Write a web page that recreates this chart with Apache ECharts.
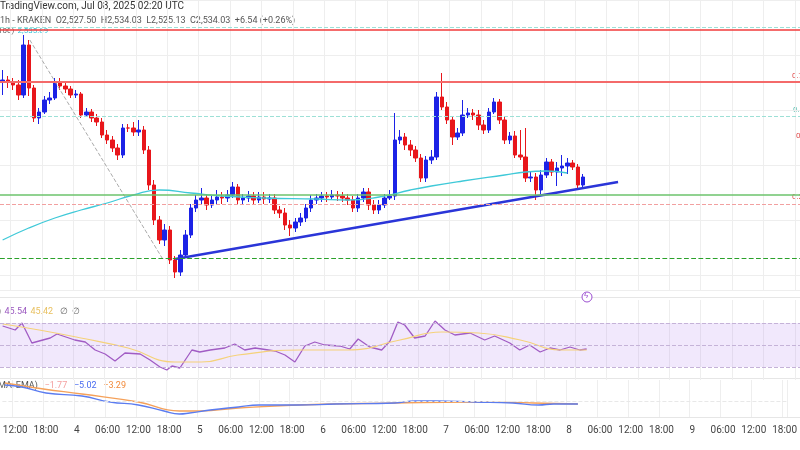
<!DOCTYPE html>
<html><head><meta charset="utf-8">
<script src="https://cdn.jsdelivr.net/npm/echarts@6/dist/echarts.min.js"></script>
<style>html,body{margin:0;background:#fff}#c{width:800px;height:450px}</style>
</head><body><div id="c"></div>
<script>
// levels are in chart units of the price pane (inverted scale: smaller = higher price)
const closes=[80,82,85,95,45,88,118,112,100,98,82,86,89,95,94,115,112,118,122,135,140,148,155,128,128,132,130,150,185,220,240,230,260,272,255,235,208,200,198,205,200,197,198,195,187,200,198,196,200,197,199,198,210,213,225,228,222,218,208,200,198,196,197,195,196,198,200,208,198,192,205,210,205,198,196,140,137,145,150,158,178,160,157,97,107,120,137,133,115,113,115,125,130,112,102,120,140,136,155,157,178,177,190,175,162,172,168,166,163,167,185,177];
const firstOpen=82;
const wickTop=[70,76,78,80,35,40,85,108,96,92,78,78,83,86,90,92,108,109,114,118,130,136,144,124,124,122,120,126,146,180,216,224,226,256,250,230,204,195,188,194,196,190,192,190,182,184,194,191,192,192,192,194,194,206,208,220,218,213,204,195,194,192,192,190,191,192,194,196,194,188,188,200,200,194,190,113,130,133,140,146,154,156,150,92,73,102,116,128,100,108,109,110,120,108,98,99,116,132,131,130,128,172,173,170,158,159,162,155,158,160,164,174];
const wickBot=[95,88,90,100,98,96,122,124,114,104,100,90,93,98,98,118,117,122,126,138,144,152,160,158,132,136,136,154,190,225,244,246,264,278,276,258,238,212,204,210,208,204,204,202,198,204,204,202,205,203,204,203,214,218,230,236,232,226,222,212,204,202,202,200,201,202,205,212,212,202,210,214,214,208,200,200,144,150,156,162,182,182,164,160,110,124,145,140,136,118,120,130,134,133,114,124,144,144,158,160,182,182,200,194,178,176,186,176,174,170,188,188];
const emaPts=[[0,240],[5,228],[10,218],[15,210],[20,203],[25,195],[30,190],[36,193],[42,196],[50,198],[60,199],[66,200],[72,197],[78,190],[82,186],[88,181],[96,175],[100,172],[104,171],[108,173]];
const trendPts=[[33,259],[117.7,182]];
const dropPts=[[5.2,40],[30.5,258]];
const rsiPts=[[0,326],[2.4,330],[3.7,323],[5.6,343],[9.1,338],[10.4,334],[13.8,340],[15.8,342],[17.7,350],[19.6,354],[21.5,361],[23.4,353],[26.3,354],[28.2,360],[30.1,367],[31.4,370],[32.4,366],[33.9,368],[36.2,350],[37.7,352],[39.7,350],[42.5,348],[44.4,344],[46.3,350],[48.3,348],[52.1,351],[54,355],[55.9,362],[57.8,346],[59.7,342],[61.6,345],[64.5,346],[66.4,349],[68,339],[70.2,347],[72.5,350],[74.1,341],[75.6,322],[76.9,325],[78.8,338],[80.8,336],[82.7,321],[84.6,330],[86.5,335],[89.4,333],[92.2,340],[94.1,336],[97,343],[98.9,350],[100.8,345],[102.8,352],[104.7,348],[106.6,350],[108.5,347],[110.4,350],[111.7,349]];
const rsiMaPts=[[0,324],[7,330],[15,338],[24,348],[33,362],[38,362],[45,355],[57,350],[66,350],[76,340],[84,332],[91,333],[99,340],[107,350],[111.7,350]];
const macdPts=[[0,385],[3.3,387],[8,393],[15,396],[20.5,402],[26,405],[31,411],[34,414],[36,413],[40,410],[45.5,407],[49.5,405],[57,405],[64.5,404],[76,403],[80,401],[84,401],[91.5,402],[99,403],[104,405],[107,404],[111.7,404]];
const signalPts=[[0,383],[7.5,389],[15,394],[26,402],[34,411],[38,411],[45.5,408],[57,405],[76,403],[91.5,402],[103,403],[111.7,404]];
const hours=[];for(let i=0;i<153;i++){hours.push(10+i);}
const cats=hours.map(h=>{const d=3+Math.floor(h/24),hh=h%24;return hh===0?String(d):(hh<10?'0':'')+hh+':00';});

const candles=closes.map((c,i)=>[i===0?firstOpen:closes[i-1],c,wickTop[i],wickBot[i]]);
const tick=(i)=>hours[i]%6===0;
const catAxis=(g,show)=>({type:'category',data:cats,gridIndex:g,boundaryGap:true,axisLine:{show:false},axisTick:{show:false},
  axisLabel:{show:show,interval:(i)=>tick(i),color:'#444',fontSize:10,fontFamily:'Roboto',margin:8},
  splitLine:{show:true,interval:(i)=>tick(i),lineStyle:{color:'#eeeeee'}}});
const valX=(g)=>({type:'value',gridIndex:g,min:-0.5,max:152.5,show:false});
const valY=(g,mn,mx,split)=>({type:'value',gridIndex:g,min:mn,max:mx,inverse:true,interval:55,axisLabel:{show:false},axisLine:{show:false},axisTick:{show:false},splitLine:{show:split,lineStyle:{color:'#eeeeee'}}});
const hl=(y,color,type,w,x0)=>x0==null?{yAxis:y,lineStyle:{color:color,type:type,width:w}}:[{coord:[x0,y],lineStyle:{color:color,type:type,width:w}},{coord:[152.5,y]}];

const chart=echarts.init(document.getElementById('c'));
chart.setOption({
  animation:false,
  grid:[{left:0,right:0,top:0,height:290},{left:0,right:0,top:300,height:80},{left:0,right:0,top:380,height:37}],
  xAxis:[catAxis(0,false),valX(0),catAxis(1,false),valX(1),catAxis(2,true),valX(2)],
  yAxis:[valY(0,0,290,true),valY(1,300,380,false),valY(2,380,417,false)],
  series:[
    {type:'candlestick',xAxisIndex:0,yAxisIndex:0,data:candles,barWidth:4,
      itemStyle:{color:'#e8161b',color0:'#1c22e6',borderColor:'#e8161b',borderColor0:'#1c22e6',borderWidth:1},
      markLine:{silent:true,symbol:'none',label:{show:false},data:[
        hl(30,'#f23b3b','solid',1.5),hl(82,'#f46a6a','solid',2),hl(145,'#e83030','dashed',1.5,38.5),hl(145,'#e8a0a0','dashed',1,3),
        hl(27,'#9de0d6','dashed',1),hl(116,'#9de0d6','dashed',1),hl(195,'#6cc36c','solid',1.5),hl(204,'#f2a0a0','dashed',1),hl(258,'#2aa12a','dashed',1.2)]}},
    {type:'line',xAxisIndex:1,yAxisIndex:0,data:emaPts,smooth:true,symbol:'none',lineStyle:{color:'#3fc9d8',width:1.3}},
    {type:'line',xAxisIndex:1,yAxisIndex:0,data:trendPts,symbol:'none',lineStyle:{color:'#2a35d8',width:2.5}},
    {type:'line',xAxisIndex:1,yAxisIndex:0,data:dropPts,symbol:'none',lineStyle:{color:'#aaaaaa',width:1,type:'dashed'}},
    {type:'line',xAxisIndex:3,yAxisIndex:1,data:rsiPts,symbol:'none',lineStyle:{color:'#a15cc4',width:1.3},
      markArea:{silent:true,itemStyle:{color:'rgba(190,150,240,0.22)'},data:[[{yAxis:323},{yAxis:367}]]},
      markLine:{silent:true,symbol:'none',label:{show:false},data:[hl(323,'#c5b3d8','dashed',1),hl(345,'#c5b3d8','dashed',1),hl(367,'#c5b3d8','dashed',1)]}},
    {type:'line',xAxisIndex:3,yAxisIndex:1,data:rsiMaPts,smooth:true,symbol:'none',lineStyle:{color:'#f5d27a',width:1.2}},
    {type:'line',xAxisIndex:5,yAxisIndex:2,data:signalPts,smooth:true,symbol:'none',lineStyle:{color:'#f5a15a',width:1.3}},
    {type:'line',xAxisIndex:5,yAxisIndex:2,data:macdPts,smooth:true,symbol:'none',lineStyle:{color:'#5b7cf0',width:1.3},
      markLine:{silent:true,symbol:'none',label:{show:false},data:[hl(401,'#e8e8e8','dashed',1)]}}
  ],
  graphic:[
    {type:'rect',shape:{x:0,y:297,width:800,height:1},style:{fill:'#e6e6e6'}},
    {type:'rect',shape:{x:0,y:378,width:800,height:1},style:{fill:'#e6e6e6'}},
    {type:'rect',shape:{x:0,y:417,width:800,height:1},style:{fill:'#e6e6e6'}},
    {type:'text',left:0,top:1,style:{text:'TradingView.com, Jul 08, 2025 02:20 UTC',fill:'#333',font:'10px Roboto'}},
    {type:'text',left:0,top:16,style:{rich:{g:{fill:'#555',font:'9px Roboto'}},text:'{g|1h - KRAKEN  O2,527.50  H2,534.03  L2,525.13  C2,534.03  +6.54 (+0.26%)}'}},
    {type:'text',left:-2,top:25,style:{rich:{g:{fill:'#666',font:'8px Roboto'},c:{fill:'#38c3d6',font:'8px Roboto'}},text:'{g|100)} {c|2,535.89}'}},
    {type:'text',left:-2,top:306,style:{rich:{g:{fill:'#666',font:'9px Roboto'},p:{fill:'#9b59c0',font:'9px Roboto'},y:{fill:'#e8c060',font:'9px Roboto'}},text:'{g|)} {p|45.54} {y|45.42}  {g|∅  ∅}'}},
    {type:'text',left:-2,top:380,style:{rich:{g:{fill:'#555',font:'9px Roboto'},r:{fill:'#f4a0a0',font:'9px Roboto'},b:{fill:'#4a6cf0',font:'9px Roboto'},o:{fill:'#f28a3a',font:'9px Roboto'}},text:'{g|MA, EMA)}  {r|−1.77}  {b|−5.02}  {o|−3.29}'}},
    {type:'text',left:792,top:72,style:{text:'0.786',fill:'#e05050',font:'8px Roboto'}},
    {type:'text',left:793,top:106,style:{text:'0.618',fill:'#5cbfb0',font:'8px Roboto'}},
    {type:'text',left:796,top:132,style:{text:'0.5',fill:'#e05050',font:'8px Roboto'}},
    {type:'text',left:792,top:193,style:{text:'0.236',fill:'#e05050',font:'8px Roboto'}},
    {type:'circle',shape:{cx:587,cy:297,r:5},style:{fill:'#fff',stroke:'#9b4fd0',lineWidth:1}},
    {type:'text',left:584,top:292,style:{text:'ϟ',fill:'#9b4fd0',font:'8px sans-serif'}}
  ]
});
</script></body></html>
